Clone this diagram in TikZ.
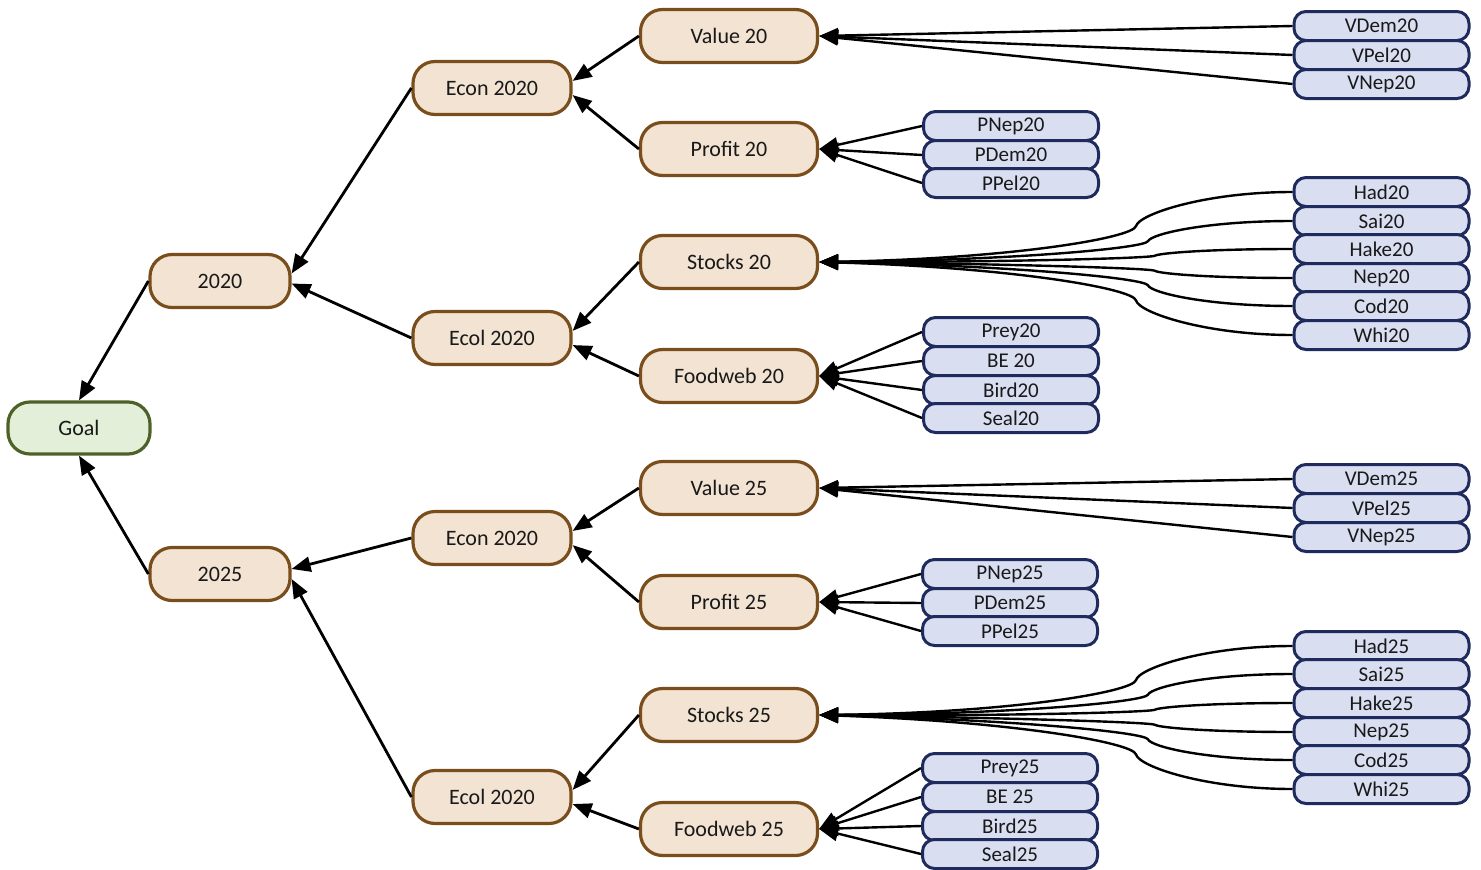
\documentclass[tikz,border=0pt]{standalone}
\usepackage{fontspec}
\setmainfont{Carlito}
\usetikzlibrary{arrows.meta,calc}
\definecolor{tanfill}{HTML}{F2E3D2}
\definecolor{tanline}{HTML}{7A4E1C}
\definecolor{goalfill}{HTML}{E3EFD9}
\definecolor{goalline}{HTML}{4E6128}
\definecolor{leaffill}{HTML}{D9DEF1}
\definecolor{leafline}{HTML}{1F2B5C}
\begin{document}
\begin{tikzpicture}[x=1pt,y=-1pt,
  base/.style={rectangle, inner sep=0pt, text=black!90,
    font=\fontsize{22}{26}\selectfont},
  goalbox/.style={base, fill=goalfill, draw=goalline, line width=3.2pt,
    rounded corners=22pt, minimum width=142pt, minimum height=52pt},
  tanbox/.style={base, fill=tanfill, draw=tanline, line width=3.2pt,
    rounded corners=22pt, minimum height=53pt},
  yearbox/.style={tanbox, minimum width=140pt},
  groupbox/.style={tanbox, minimum width=158pt},
  critbox/.style={tanbox, minimum width=177pt},
  leafbox/.style={base, fill=leaffill, draw=leafline, line width=3pt,
    rounded corners=12pt, minimum width=175pt, minimum height=29pt,
    font=\fontsize{21}{24}\selectfont},
  edge/.style={line width=2.8pt, -{Triangle[length=19pt,width=15pt]}},
  fan/.style={line width=2.4pt, -{Triangle[length=19pt,width=15pt]}}
]
\useasboundingbox (0,0) rectangle (1481,870);

% ---- tree: goal, years, groups, criteria
\node[goalbox] (goal) at (79,428) {Goal};
\node[yearbox] (y20) at (220,281) {2020};
\node[yearbox] (y25) at (220,574) {2025};

\node[groupbox] (econA) at (492,88)  {Econ 2020};
\node[groupbox] (ecolA) at (492,338) {Ecol 2020};
\node[groupbox] (econB) at (492,538) {Econ 2020};
\node[groupbox] (ecolB) at (492,797) {Ecol 2020};

\node[critbox] (val20)  at (729,36)  {Value 20};
\node[critbox] (pro20)  at (729,149) {Profit 20};
\node[critbox] (sto20)  at (729,262) {Stocks 20};
\node[critbox] (food20) at (729,376) {Foodweb 20};
\node[critbox] (val25)  at (729,488) {Value 25};
\node[critbox] (pro25)  at (729,602) {Profit 25};
\node[critbox] (sto25)  at (729,715) {Stocks 25};
\node[critbox] (food25) at (729,829) {Foodweb 25};

% ---- leaf indicators
\foreach \n/\y in {VDem20/26,VPel20/55,VNep20/84,
                   Had20/192,Sai20/221,Hake20/249,Nep20/278,Cod20/306,Whi20/335,
                   VDem25/479,VPel25/508,VNep25/537,
                   Had25/646,Sai25/674,Hake25/703,Nep25/732,Cod25/760,Whi25/789}
  \node[leafbox] (\n) at (1381.5,\y) {\n};
\foreach \n/\t/\y in {PNep20/PNep20/126,PDem20/PDem20/155,PPel20/PPel20/183,
                      Prey20/Prey20/332,BE20/BE 20/361,Bird20/Bird20/390,Seal20/Seal20/418}
  \node[leafbox] (\n) at (1011,\y) {\t};
\foreach \n/\t/\y in {PNep25/PNep25/574,PDem25/PDem25/603,PPel25/PPel25/631,
                      Prey25/Prey25/768,BE25/BE 25/797,Bird25/Bird25/826,Seal25/Seal25/854}
  \node[leafbox] (\n) at (1010,\y) {\t};

% ---- upper levels
\draw[edge] (y20.west) -- (goal.north);
\draw[edge] (y25.west) -- (goal.south);
\draw[edge] (econA.west) -- (y20.6);
\draw[edge] (ecolA.west) -- (y20.-2);
\draw[edge] (econB.west) -- (y25.4);
\draw[edge] (ecolB.west) -- (y25.-4);
\draw[edge] (val20.west) -- (econA.5);
\draw[edge] (pro20.west) -- (econA.-5);
\draw[edge] (sto20.west) -- (ecolA.5);
\draw[edge] (food20.west) -- (ecolA.-5);
\draw[edge] (val25.west) -- (econB.5);
\draw[edge] (pro25.west) -- (econB.-5);
\draw[edge] (sto25.west) -- (ecolB.5);
\draw[edge] (food25.west) -- (ecolB.-5);

% ---- straight fans into criteria
\foreach \n in {VDem20,VPel20,VNep20} \draw[fan] (\n.west) -- (val20.east);
\foreach \n in {PNep20,PDem20,PPel20} \draw[fan] (\n.west) -- (pro20.east);
\foreach \n in {Prey20,BE20,Bird20,Seal20} \draw[fan] (\n.west) -- (food20.east);
\foreach \n in {VDem25,VPel25,VNep25} \draw[fan] (\n.west) -- (val25.east);
\foreach \n in {PNep25,PDem25,PPel25} \draw[fan] (\n.west) -- (pro25.east);
\foreach \n in {Prey25,BE25,Bird25,Seal25} \draw[fan] (\n.west) -- (food25.east);

% ---- kinked curved fans into the stock criteria
% each: leaf y, kink x; kink y and control offsets are derived
\foreach \n/\y/\kx in {Had20/192/1136,Sai20/221/1148,Hake20/249/1155,
                       Nep20/278/1155,Cod20/306/1148,Whi20/335/1136}{
  \pgfmathsetmacro{\ky}{263+(\y-263)*0.52}
  \pgfmathsetmacro{\d}{(\ky-\y)*0.35}
  \pgfmathsetmacro{\ey}{263+(\y-263)*0.06}
  \draw[fan] (\n.west) .. controls (1205,\y) and ({\kx+3},{\ky-\d}) .. (\kx,\ky)
     .. controls ({\kx-3},{\ky+\d}) and (1010,\ey) .. (sto20.east);
}
\foreach \n/\y/\kx in {Had25/646/1136,Sai25/674/1148,Hake25/703/1155,
                       Nep25/732/1155,Cod25/760/1148,Whi25/789/1136}{
  \pgfmathsetmacro{\ky}{717+(\y-717)*0.52}
  \pgfmathsetmacro{\d}{(\ky-\y)*0.35}
  \pgfmathsetmacro{\ey}{717+(\y-717)*0.06}
  \draw[fan] (\n.west) .. controls (1205,\y) and ({\kx+3},{\ky-\d}) .. (\kx,\ky)
     .. controls ({\kx-3},{\ky+\d}) and (1010,\ey) .. (sto25.east);
}
\end{tikzpicture}
\end{document}
